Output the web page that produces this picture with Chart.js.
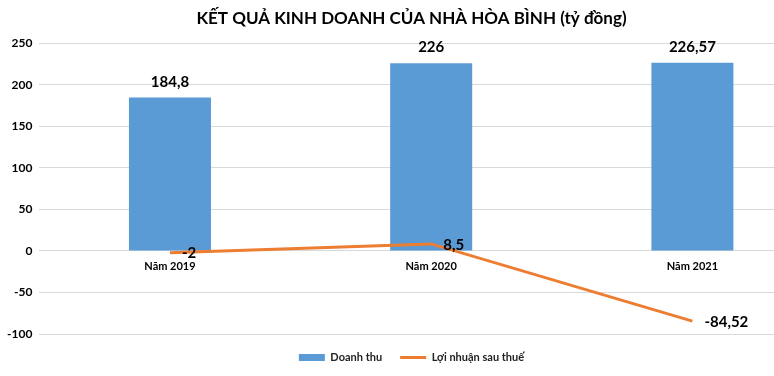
<!DOCTYPE html>
<html>
<head>
<meta charset="utf-8">
<script src="https://cdn.jsdelivr.net/npm/chart.js@4.4.1/dist/chart.umd.min.js"></script>
<style>
    html, body { margin: 0; padding: 0; background: #fff; overflow: hidden; }
    #wrap { width: 845px; height: 376px; position: relative; }
</style>
</head>
<body>
<div id="wrap"><canvas id="graficoKQKD"></canvas></div>
<script>
const categories = ["Năm 2019", "Năm 2020", "Năm 2021"];
const doanhThu = [184.8, 226, 226.57];
const loiNhuan = [-2, 8.5, -84.52];
const yMin = -100;
const yMax = 250;
const yStep = 50;

const FONT = "Lato, 'Open Sans', sans-serif";
const fmt = v => String(v).replace(".", ",");

// nhãn giá trị + nhãn năm nằm ngay dưới đường 0
const nhanPlugin = {
    id: "nhanPlugin",
    afterDatasetsDraw(chart) {
        const ctx = chart.ctx;
        ctx.save();
        ctx.fillStyle = "#000";
        ctx.font = "bold 15px " + FONT;
        ctx.textAlign = "center";
        ctx.textBaseline = "alphabetic";
        chart.getDatasetMeta(0).data.forEach((bar, i) => {
            ctx.fillText(fmt(doanhThu[i]), bar.x, bar.y - 11);
        });
        ctx.textAlign = "left";
        ctx.textBaseline = "middle";
        chart.getDatasetMeta(1).data.forEach((pt, i) => {
            ctx.fillText(fmt(loiNhuan[i]), pt.x + 12, pt.y + 1);
        });
        const y0 = chart.scales.y.getPixelForValue(0);
        ctx.font = "bold 11px " + FONT;
        ctx.textAlign = "center";
        ctx.textBaseline = "top";
        categories.forEach((c, i) => {
            ctx.fillText(c, chart.scales.x.getPixelForValue(i), y0 + 10);
        });
        ctx.restore();
    }
};

new Chart(document.getElementById("graficoKQKD"), {
    data: {
        labels: categories,
        datasets: [{
            type: "bar",
            label: "Doanh thu",
            data: doanhThu,
            backgroundColor: "#5b9bd5",
            barPercentage: 1,
            categoryPercentage: 0.314,
            pointStyle: "rect",
            order: 2
        }, {
            type: "line",
            label: "Lợi nhuận sau thuế",
            data: loiNhuan,
            borderColor: "#ed7d31",
            backgroundColor: "#ed7d31",
            borderWidth: 3,
            pointRadius: 0,
            tension: 0,
            pointStyle: "line",
            order: 1
        }]
    },
    options: {
        responsive: true,
        maintainAspectRatio: false,
        animation: false,
        layout: { padding: { left: 0, right: 22, top: 0, bottom: 3 } },
        plugins: {
            title: {
                display: true,
                text: "KẾT QUẢ KINH DOANH CỦA NHÀ HÒA BÌNH (tỷ đồng)",
                color: "#000",
                font: { family: FONT, size: 17, weight: "bold" },
                padding: { top: 8, bottom: 15 }
            },
            legend: {
                position: "bottom",
                labels: {
                    usePointStyle: true,
                    pointStyleWidth: 26,
                    boxHeight: 7,
                    color: "#222",
                    font: { family: FONT, size: 11, weight: "bold" },
                    padding: 18,
                    sort: (a, b) => a.datasetIndex - b.datasetIndex
                }
            },
            tooltip: { enabled: false }
        },
        scales: {
            x: {
                display: false
            },
            y: {
                min: yMin,
                max: yMax,
                ticks: {
                    stepSize: yStep,
                    color: "#000",
                    padding: 7,
                    font: { family: FONT, size: 12, weight: "bold" }
                },
                grid: { color: "#d9d9d9", drawTicks: false },
                border: { display: false }
            }
        }
    },
    plugins: [nhanPlugin]
});
</script>
</body>
</html>
